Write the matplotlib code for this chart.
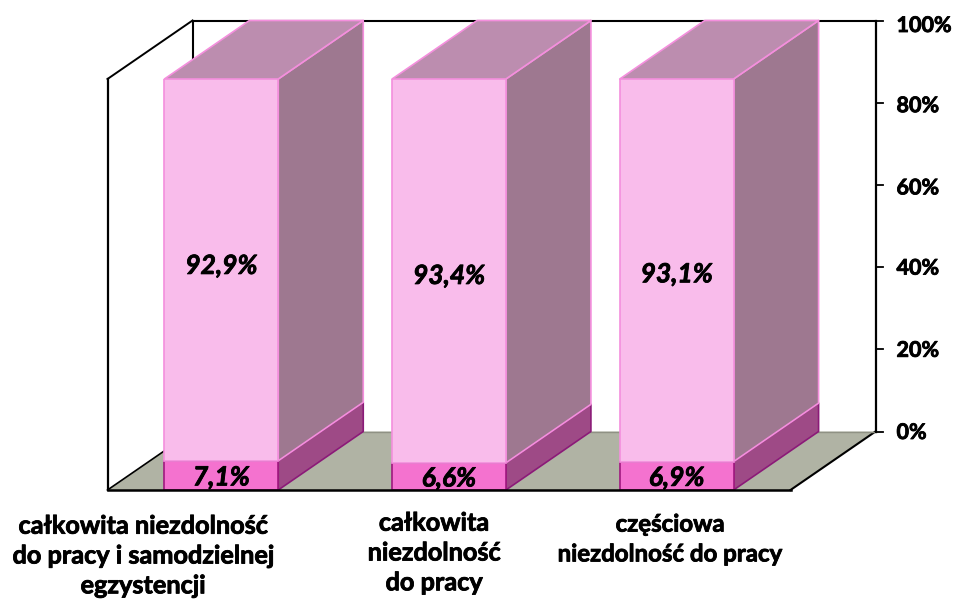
import matplotlib
matplotlib.use("Agg")
import matplotlib.pyplot as plt
import matplotlib.patheffects as pe
from matplotlib.patches import Polygon

# Dane
categories = ["całkowita niezdolność\ndo pracy i samodzielnej\negzystencji",
              "całkowita\nniezdolność\ndo pracy",
              "częściowa\nniezdolność do pracy"]
values_low = [7.1, 6.6, 6.9]
values_high = [92.9, 93.4, 93.1]
labels_low = ["7,1%", "6,6%", "6,9%"]
labels_high = ["92,9%", "93,4%", "93,1%"]
y_ticks = [0, 20, 40, 60, 80, 100]

W, H = 955, 602
plt.rcParams['font.family'] = ['Lato', 'DejaVu Sans']

fig = plt.figure(figsize=(W / 100, H / 100), dpi=100)
# Plano frontal del gráfico 3D
left, right, top, bottom = 107.5, 790.5, 79, 490
ax = fig.add_axes([left / W, 1 - bottom / H, (right - left) / W, (bottom - top) / H])
ax.set_xlim(0, 3)
ax.set_ylim(0, 100)
ax.axis('off')

# Profundidad en unidades de datos
dx = 85 / (right - left) * 3
dy = 58.5 / (bottom - top) * 100
bar_w = 0.5

# Engrosar un poco el texto, Lato queda más fino que el original
heavy = [pe.withStroke(linewidth=0.6, foreground='black')]


def poly(pts, face, edge, lw=1.2, z=2):
    ax.add_patch(Polygon(pts, closed=True, facecolor=face, edgecolor=edge,
                         linewidth=lw, zorder=z, clip_on=False, joinstyle='round'))


def line(xs, ys, color='black', lw=1.5, z=1):
    ax.plot(xs, ys, color=color, linewidth=lw, zorder=z, clip_on=False,
            solid_capstyle='projecting')


# Suelo
poly([(0, 0), (3, 0), (3 + dx, dy), (dx, dy)], '#B0B3A4', 'none', lw=0, z=0)
line([0, dx], [0, dy], lw=1.2)
line([3, 3 + dx], [0, dy], lw=1.5)
line([0, 3], [0, 0], lw=1.8, z=5)
line([dx, 3 + dx], [dy, dy], color='#8f9184', lw=1)

# Paredes
line([0, 0], [0, 100], lw=1.6)
line([0, dx], [100, 100 + dy], lw=1.4)
line([dx, dx], [dy, 100 + dy], lw=1.5)
line([dx, 3 + dx], [100 + dy, 100 + dy], lw=1.5)
line([3 + dx, 3 + dx], [dy, 100 + dy], lw=1.6)

# Marcas y etiquetas del eje
tick_len = 7 / (right - left) * 3
tick_shift = [-1, -1, -1, -3, -3, -5]
for t, shift in zip(y_ticks, tick_shift):
    y = t + dy
    line([3 + dx, 3 + dx + tick_len], [y, y], lw=1.3)
    ax.annotate(f"{t}%", (3 + dx, y), xytext=(21, shift), textcoords='offset pixels',
                ha='left', va='center', fontsize=15.5, fontweight='bold',
                annotation_clip=False, path_effects=heavy)

# Barras apiladas
centers = [0.5 + i for i in range(len(categories))]
for c, lo, hi in zip(centers, values_low, values_high):
    x0, x1 = c - bar_w / 2, c + bar_w / 2
    total = lo + hi
    # Segmento inferior
    poly([(x1, 0), (x1 + dx, dy), (x1 + dx, lo + dy), (x1, lo)], '#9E4A86', '#8B1A78', z=3)
    ax.bar(c, lo, width=bar_w, color='#F472CF', edgecolor='#A0187F', linewidth=1.2, zorder=4)
    # Segmento superior
    poly([(x1, lo), (x1 + dx, lo + dy), (x1 + dx, total + dy), (x1, total)], '#9E7890', '#F48FDD', z=3)
    poly([(x0, total), (x1, total), (x1 + dx, total + dy), (x0 + dx, total + dy)], '#BC8DAF', '#F48FDD', z=3)
    ax.bar(c, hi, bottom=lo, width=bar_w, color='#F9BCEB', edgecolor='#F48FDD', linewidth=1.2, zorder=4)

# Etiquetas de datos
offset_high = [4, -5, -4]
for c, lo, hi, tl, th, off in zip(centers, values_low, values_high, labels_low, labels_high, offset_high):
    ax.annotate(tl, (c, lo / 2), xytext=(0, -2), textcoords='offset pixels', ha='center', va='center',
                fontsize=19, fontweight='bold', style='italic', zorder=6, path_effects=heavy)
    ax.annotate(th, (c, lo + hi / 2), xytext=(0, off), textcoords='offset pixels', ha='center', va='center',
                fontsize=19, fontweight='bold', style='italic', zorder=6, path_effects=heavy)

# Categorías
cat_x = [143, 434, 670]
cat_y = [556, 553, 539]
cat_size = [18.2, 18.2, 17.3]
for name, x, y, size in zip(categories, cat_x, cat_y, cat_size):
    fig.text(x / W, 1 - y / H, name, ha='center', va='center', fontsize=size,
             fontweight='bold', linespacing=1.36, path_effects=heavy)

fig.savefig('out.png', dpi=100)
